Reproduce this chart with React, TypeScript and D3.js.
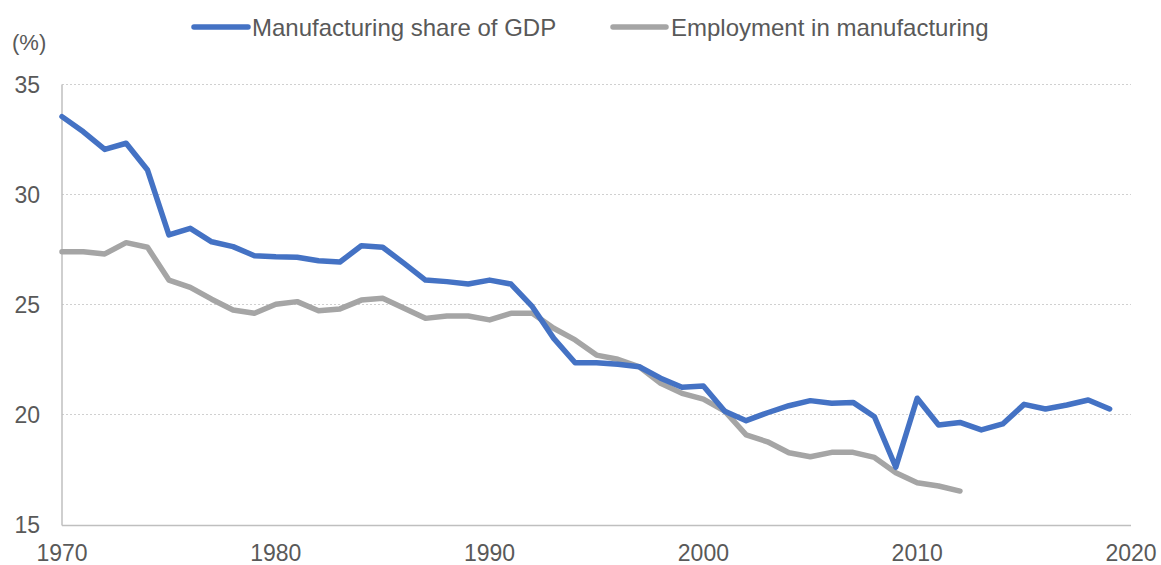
import React from "react";
import * as d3 from "d3";

const years: number[] = Array.from({ length: 50 }, (_, i) => 1970 + i);

const gdpShare: number[] = [
  33.54, 32.85, 32.05, 32.33, 31.11, 28.16, 28.46, 27.85, 27.63, 27.22,
  27.17, 27.15, 26.99, 26.93, 27.67, 27.6, 26.87, 26.11, 26.04, 25.93,
  26.11, 25.93, 24.9, 23.46, 22.35, 22.35, 22.28, 22.17, 21.65, 21.24,
  21.3, 20.15, 19.72, 20.08, 20.4, 20.63, 20.51, 20.55, 19.9, 17.6,
  20.74, 19.52, 19.64, 19.3, 19.57, 20.46, 20.25, 20.43, 20.66, 20.25,
];

const employment: number[] = [
  27.4, 27.4, 27.3, 27.81, 27.6, 26.11, 25.78, 25.24, 24.75, 24.6,
  25.01, 25.13, 24.72, 24.8, 25.2, 25.28, 24.83, 24.37, 24.48, 24.48,
  24.3, 24.6, 24.6, 23.92, 23.39, 22.7, 22.51, 22.17, 21.42, 20.96,
  20.7, 20.15, 19.07, 18.76, 18.26, 18.08, 18.28, 18.28, 18.05, 17.35,
  16.9, 16.75, 16.52,
];

const yTicks: number[] = [15, 20, 25, 30, 35];
const xTicks: number[] = [1970, 1980, 1990, 2000, 2010, 2020];

const seriesNames: string[] = ["Manufacturing share of GDP", "Employment in manufacturing"];
const seriesColors: string[] = ["#4472C4", "#A5A5A5"];

export default function App() {
  const W = 1161;
  const H = 565;
  const left = 62;
  const right = 1131;
  const top = 84.5;
  const bottom = 524.5;

  const x = d3.scaleLinear().domain([1970, 2020]).range([left, right]);
  const y = d3.scaleLinear().domain([15, 35]).range([bottom, top]);

  const line = d3
    .line<[number, number]>()
    .x((d) => x(d[0]))
    .y((d) => y(d[1]))
    .curve(d3.curveLinear);

  const gdpPts: [number, number][] = gdpShare.map((v, i) => [years[i], v]);
  const empPts: [number, number][] = employment.map((v, i) => [years[i], v]);

  const textColor = "#595959";
  const font = "'Liberation Sans', Arial, sans-serif";

  return (
    <svg
      width={W}
      height={H}
      style={{ position: "absolute", left: 0, top: 0, display: "block", background: "#fff" }}
      fontFamily={font}
    >
      {yTicks
        .filter((t) => t !== 15)
        .map((t) => (
          <line
            key={"g" + t}
            x1={left}
            x2={right}
            y1={y(t)}
            y2={y(t)}
            stroke="#d0d0d0"
            strokeWidth={1}
            strokeDasharray="2,2"
          />
        ))}
      <line x1={left} x2={left} y1={top} y2={bottom + 1} stroke="#bfbfbf" strokeWidth={1.5} />
      <line x1={left} x2={right} y1={bottom + 1} y2={bottom + 1} stroke="#bfbfbf" strokeWidth={1.5} />

      {yTicks.map((t) => (
        <text
          key={"yt" + t}
          x={40}
          y={y(t)}
          dy="0.35em"
          textAnchor="end"
          fontSize={23}
          fill={textColor}
        >
          {t}
        </text>
      ))}
      {xTicks.map((t) => (
        <text key={"xt" + t} x={x(t)} y={561} textAnchor="middle" fontSize={23} fill={textColor}>
          {t}
        </text>
      ))}
      <text x={12} y={50} fontSize={22} fill={textColor}>
        (%)
      </text>

      <path
        d={line(empPts) || ""}
        fill="none"
        stroke={seriesColors[1]}
        strokeWidth={5.5}
        strokeLinejoin="round"
        strokeLinecap="round"
      />
      <path
        d={line(gdpPts) || ""}
        fill="none"
        stroke={seriesColors[0]}
        strokeWidth={5.5}
        strokeLinejoin="round"
        strokeLinecap="round"
      />

      <line x1={194} x2={248} y1={27} y2={27} stroke={seriesColors[0]} strokeWidth={5.5} strokeLinecap="round" />
      <text x={252} y={35.5} fontSize={24} fill={textColor}>
        {seriesNames[0]}
      </text>
      <line x1={613} x2={666} y1={27} y2={27} stroke={seriesColors[1]} strokeWidth={5.5} strokeLinecap="round" />
      <text x={671} y={35.5} fontSize={24} fill={textColor}>
        {seriesNames[1]}
      </text>
    </svg>
  );
}
